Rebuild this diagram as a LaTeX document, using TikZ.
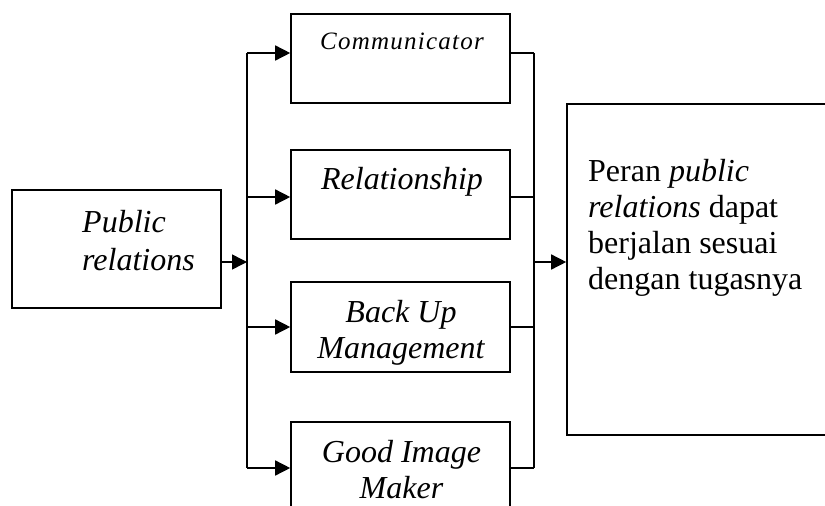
\documentclass[tikz,border=0pt]{standalone}
\usepackage{fontspec}
\setmainfont{Liberation Serif}
\usepackage{tikz}
\usetikzlibrary{arrows.meta,positioning,calc}

\begin{document}
\begin{tikzpicture}[x=1pt,y=-1pt,
	box/.style={draw,line width=1.6pt,rectangle,inner sep=0pt},
	txt/.style={inner sep=0pt,font=\fontsize{32}{36}\selectfont\itshape,align=center},
	arr/.style={-{Triangle[length=15pt,width=15pt]},line width=1.5pt},
	bus/.style={line width=1.3pt}]
	\useasboundingbox (0,0) rectangle (825,506);
	\clip (0,0) rectangle (825,506);
	% boxes
	\node[box,minimum width=209pt,minimum height=118pt] (pr) at (116.5,249) {};
	\node[box,minimum width=219pt,minimum height=89pt] (comm) at (400.5,58.5) {};
	\node[box,minimum width=219pt,minimum height=89pt] (rel) at (400.5,194.5) {};
	\node[box,minimum width=219pt,minimum height=90pt] (back) at (400.5,327) {};
	\node[box,minimum width=219pt,minimum height=90pt] (good) at (400.5,467) {};
	\node[box,minimum width=265pt,minimum height=331pt] (out) at (699.5,269.5) {};
	% texts (base = last line)
	\node[txt,align=left,anchor=base west,font=\fontsize{32}{38}\selectfont\itshape] (pr-txt) at (82,270) {Public\\relations};
	\node[txt,anchor=base,font=\fontsize{25}{30}\selectfont\itshape\addfontfeature{LetterSpace=5}] (comm-txt) at (402,49) {Communicator};
	\node[txt,anchor=base] (rel-txt) at (402,189) {Relationship};
	\node[txt,anchor=base] (back-txt) at (401,358) {Back Up\\Management};
	\node[txt,anchor=base] (good-txt) at (401.5,498) {Good Image\\Maker};
	\node[txt,anchor=base west,align=left,font=\fontsize{32}{36}\selectfont] (out-txt) at (588,289)
		{Peran \textit{public}\\\textit{relations} dapat\\berjalan sesuai\\dengan tugasnya};
	% connectors
	\coordinate (lbus) at (247,0);
	\coordinate (rbus) at (534,0);
	\coordinate (prout) at ([yshift=-13pt]pr.east);
	\coordinate (outin) at ([yshift=7.5pt]out.west);
	\foreach \b/\d in {comm/5.5,rel/-2.5,back/0,good/-1}{
		\coordinate (in-\b) at ([yshift=\d pt]\b.west);
		\coordinate (out-\b) at ([yshift=\d pt]\b.east);
		\draw[arr] (lbus |- in-\b) -- (in-\b);
		\draw[bus] (out-\b) -- (rbus |- out-\b);
	}
	\draw[bus] (lbus |- in-comm) -- (lbus |- in-good);
	\draw[bus] (rbus |- out-comm) -- (rbus |- out-good);
	\draw[arr] (prout) -- (lbus |- prout);
	\draw[arr] (rbus |- outin) -- (outin);
\end{tikzpicture}
\end{document}
